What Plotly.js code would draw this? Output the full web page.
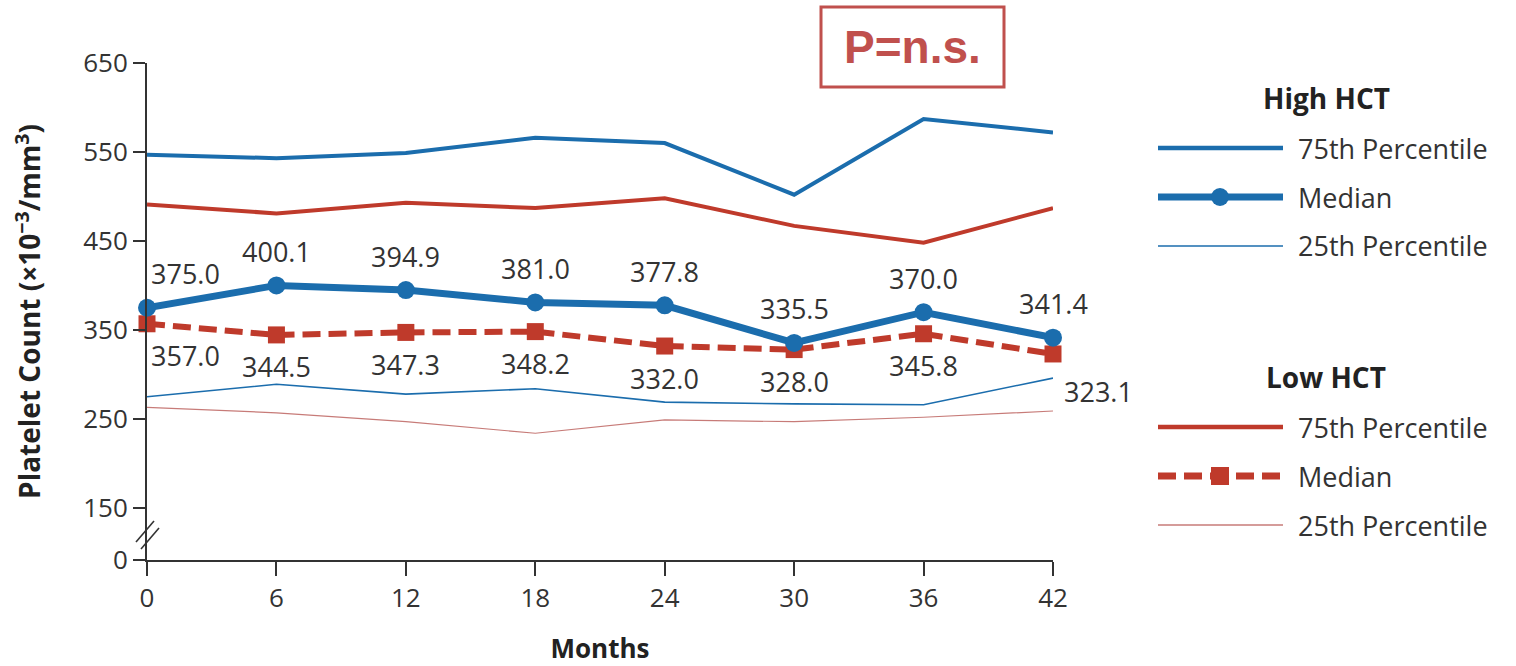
<!DOCTYPE html>
<html>
<head>
<meta charset="utf-8">
<script src="https://cdn.plot.ly/plotly-3.0.1.min.js"></script>
<style>html,body{margin:0;padding:0;background:#fff;}#chart{width:1516px;height:666px;}</style>
</head>
<body>
<div id="chart"></div>
<script>
// ---- data ----
const months = [0, 6, 12, 18, 24, 30, 36, 42];
const highP75 = [547, 543, 549, 566, 560, 502, 587, 572];
const highMed = [375.0, 400.1, 394.9, 381.0, 377.8, 335.5, 370.0, 341.4];
const highP25 = [275, 289, 278, 284, 269, 267, 266, 296];
const lowP75 = [491, 481, 493, 487, 498, 467, 448, 487];
const lowMed = [357.0, 344.5, 347.3, 348.2, 332.0, 328.0, 345.8, 323.1];
const lowP25 = [263, 257, 247, 234, 249, 247, 252, 259];
const yTickVals = [91.6, 150, 250, 350, 450, 550, 650];
const yTickText = ['0', '150', '250', '350', '450', '550', '650'];
const xTickVals = [0, 6, 12, 18, 24, 30, 36, 42];
const legendItems = ['75th Percentile', 'Median', '25th Percentile'];
const groupNames = ['High HCT', 'Low HCT'];
const pText = 'P=n.s.';

// ---- styling ----
const BLUE = '#1b6dad';
const RED = '#bf3a2b';
const PINK = '#c77b78';
const BOXRED = '#c0504d';
const TXT = '#333333';
const FONT = 'Open Sans, Noto Sans, sans-serif';

const L = 147, R = 1053, T = 63, B = 560;
const px = x => (x - L) / (R - L);
const py = y => (B - y) / (B - T);

const traces = [
  {x: months, y: lowP25, mode: 'lines', line: {color: PINK, width: 1.2}, cliponaxis: false},
  {x: months, y: highP25, mode: 'lines', line: {color: BLUE, width: 1.6}, cliponaxis: false},
  {x: months, y: lowP75, mode: 'lines', line: {color: RED, width: 4}, cliponaxis: false},
  {x: months, y: highP75, mode: 'lines', line: {color: BLUE, width: 4}, cliponaxis: false},
  {x: months, y: lowMed, mode: 'lines+markers', line: {color: RED, width: 6, dash: '18px,8px'},
   marker: {symbol: 'square', size: 17, color: RED}, cliponaxis: false},
  {x: months, y: highMed, mode: 'lines+markers', line: {color: BLUE, width: 7},
   marker: {symbol: 'circle', size: 18, color: BLUE}, cliponaxis: false}
];

const annotations = [];
months.forEach((m, i) => {
  annotations.push({x: m, y: highMed[i], xref: 'x', yref: 'y', text: highMed[i].toFixed(1),
    showarrow: false, yshift: 34, xshift: i === 0 ? 38 : 0, xanchor: 'center', yanchor: 'middle',
    font: {family: FONT, size: 27, color: TXT}});
  annotations.push({x: m, y: lowMed[i], xref: 'x', yref: 'y', text: lowMed[i].toFixed(1),
    showarrow: false, yshift: i === months.length - 1 ? -38 : -32,
    xshift: i === 0 ? 38 : (i === months.length - 1 ? 45 : 0), xanchor: 'center', yanchor: 'middle',
    font: {family: FONT, size: 27, color: TXT}});
});

annotations.push({xref: 'paper', yref: 'paper', x: px(912), y: py(47), xanchor: 'center', yanchor: 'middle',
  text: '<b>' + pText + '</b>', showarrow: false,
  font: {family: 'Liberation Sans, Arial, sans-serif', size: 46, color: BOXRED}});

// legend (custom drawn)
const shapes = [];
const groupTop = [98, 377];
const groupColors = [[BLUE, BLUE, BLUE], [RED, RED, PINK]];
groupNames.forEach((g, gi) => {
  annotations.push({xref: 'paper', yref: 'paper', x: px(1326), y: py(groupTop[gi]),
    xanchor: 'center', yanchor: 'middle', text: '<b>' + g + '</b>',
    showarrow: false, font: {family: FONT, size: 28, color: '#222'}});
  legendItems.forEach((it, k) => {
    const yy = groupTop[gi] + 50 + k * 49;
    annotations.push({xref: 'paper', yref: 'paper', x: px(1296), y: py(yy), xanchor: 'left', yanchor: 'middle',
      text: it, showarrow: false, font: {family: FONT, size: 27, color: TXT}});
    const col = groupColors[gi][k];
    let w = k === 0 ? 4.5 : (k === 1 ? 7 : 1.4);
    const line = {color: col, width: w};
    if (gi === 1 && k === 1) line.dash = '18px,8px';
    shapes.push({type: 'line', xref: 'paper', yref: 'paper', x0: px(1158), x1: px(1283),
      y0: py(yy), y1: py(yy), line: line});
    if (k === 1) {
      shapes.push({type: gi === 0 ? 'circle' : 'rect', xref: 'paper', yref: 'paper',
        xsizemode: 'pixel', ysizemode: 'pixel', xanchor: px(1220), yanchor: py(yy),
        x0: -9, x1: 9, y0: -9, y1: 9, fillcolor: col, line: {width: 0}});
    }
  });
});

// P box
shapes.push({type: 'rect', xref: 'paper', yref: 'paper', x0: px(821), x1: px(1004), y0: py(87), y1: py(7),
  line: {color: BOXRED, width: 3}, fillcolor: 'rgba(0,0,0,0)'});
// axis break marks
shapes.push({type: 'line', xref: 'paper', yref: 'paper', x0: px(136), y0: py(542), x1: px(154), y1: py(521),
  line: {color: TXT, width: 1.6}});
shapes.push({type: 'line', xref: 'paper', yref: 'paper', x0: px(141), y0: py(549), x1: px(159), y1: py(528),
  line: {color: TXT, width: 1.6}});

const layout = {
  width: 1516, height: 666,
  margin: {l: L, r: 1516 - R, t: T, b: 666 - B, pad: 0},
  paper_bgcolor: '#fff', plot_bgcolor: '#fff',
  showlegend: false,
  font: {family: FONT, color: TXT},
  xaxis: {
    range: [0, 42], tickvals: xTickVals, ticktext: xTickVals.map(String),
    showgrid: false, zeroline: false, showline: true, linecolor: TXT, linewidth: 2,
    ticks: 'outside', ticklen: 14, tickwidth: 2, tickcolor: TXT,
    tickfont: {family: FONT, size: 26, color: TXT},
    title: {text: '<b>Months</b>', font: {family: FONT, size: 26, color: '#222'}, standoff: 30}
  },
  yaxis: {
    range: [91.6, 650], tickvals: yTickVals, ticktext: yTickText,
    showgrid: false, zeroline: false, showline: true, linecolor: TXT, linewidth: 2,
    ticks: 'outside', ticklen: 12, tickwidth: 2, tickcolor: TXT,
    tickfont: {family: FONT, size: 26, color: TXT},
    title: {text: '<b>Platelet Count (×10<sup>−3</sup>/mm<sup>3</sup>)</b>',
      font: {family: FONT, size: 28, color: '#222'}, standoff: 34}
  },
  annotations: annotations,
  shapes: shapes
};

Plotly.newPlot('chart', traces, layout, {staticPlot: true, displayModeBar: false});
</script>
</body>
</html>
